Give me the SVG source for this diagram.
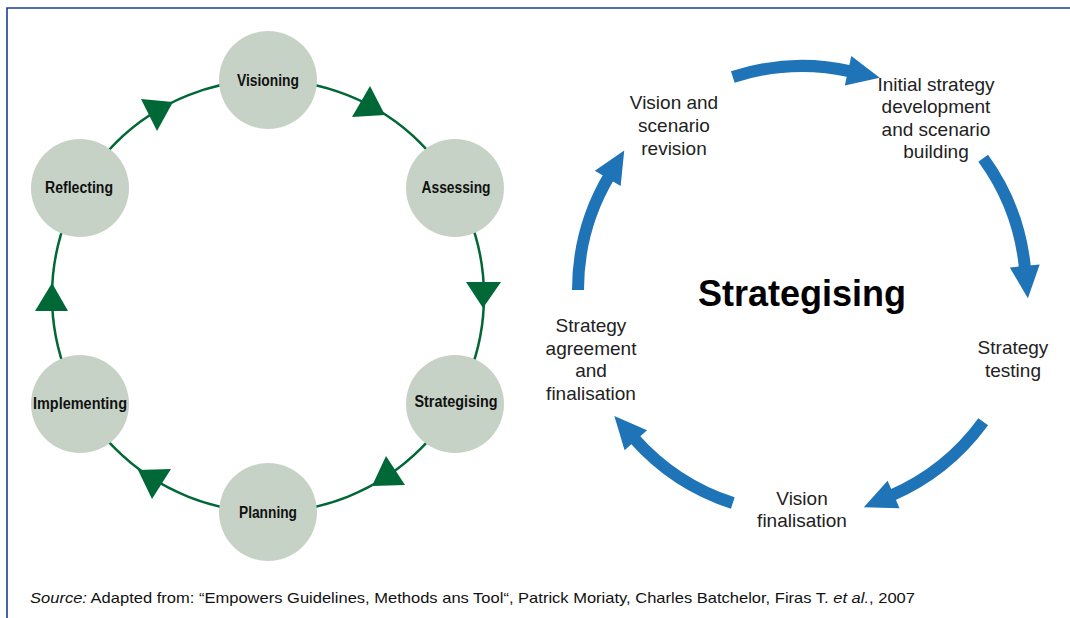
<svg xmlns="http://www.w3.org/2000/svg" width="1070" height="618" viewBox="0 0 1070 618">
<defs>
<style>
.node{fill:#c6d2c6}
.nl{font-family:"Liberation Sans Narrow","Liberation Sans",Arial,sans-serif;font-weight:bold;font-size:16px;fill:#111;text-anchor:middle}
.ring{fill:none;stroke:#006837;stroke-width:2.5}
.tri{fill:#006837}
.barc{fill:none;stroke:#1f73b7;stroke-width:12;marker-end:url(#bh)}
.lbl{font-family:"Liberation Sans",Arial,sans-serif;font-size:19px;fill:#222;text-anchor:middle}
.title{font-family:"Liberation Sans",Arial,sans-serif;font-size:36px;font-weight:bold;fill:#000;text-anchor:middle}
.src{font-family:"Liberation Sans",Arial,sans-serif;font-size:14.5px;fill:#111}
.frame{fill:none;stroke:#203c96;stroke-width:1.6}
</style>
<marker id="bh" markerUnits="userSpaceOnUse" markerWidth="40" markerHeight="40" viewBox="-4 -14 32 28" refX="0" refY="0" orient="auto">
<path d="M-2,-12 L24,0 L-2,12 Z" fill="#1f73b7"/>
</marker>
</defs>
<rect width="1070" height="618" fill="#fff"/>
<path class="frame" d="M7,618 L7,8 L1070,8"/>

<g id="connectors">
<circle class="ring" cx="268" cy="296" r="216"/>
<polygon class="tri" points="141,99 173,102 157,131"/>
<polygon class="tri" points="370,86 352,117 385,115"/>
<polygon class="tri" points="466,282 501,282 483,308"/>
<polygon class="tri" points="386,456 372,486 405,485"/>
<polygon class="tri" points="138,470 171,469 152,499"/>
<polygon class="tri" points="52,283 35,311 68,311"/>
<path class="barc" d="M732.8,77 A224,224 0 0 1 850.5,71.3"/>
<path class="barc" d="M983.2,158.3 A224,224 0 0 1 1025,268.5"/>
<path class="barc" d="M983.2,421.7 A224,224 0 0 1 891.3,495.4"/>
<path class="barc" d="M732.8,503 A224,224 0 0 1 634.2,438.4"/>
<path class="barc" d="M578,290 A224,224 0 0 1 609,176.3"/>
</g>

<g id="node-visioning"><circle class="node" cx="268" cy="80" r="49"/><text class="nl" x="268" y="86" textLength="62" lengthAdjust="spacingAndGlyphs">Visioning</text></g>
<g id="node-assessing"><circle class="node" cx="455" cy="188" r="49"/><text class="nl" x="456" y="193" textLength="69" lengthAdjust="spacingAndGlyphs">Assessing</text></g>
<g id="node-strategising"><circle class="node" cx="455" cy="404" r="49"/><text class="nl" x="456" y="407" textLength="83" lengthAdjust="spacingAndGlyphs">Strategising</text></g>
<g id="node-planning"><circle class="node" cx="268" cy="512" r="49"/><text class="nl" x="268" y="518" textLength="58" lengthAdjust="spacingAndGlyphs">Planning</text></g>
<g id="node-implementing"><circle class="node" cx="80" cy="404" r="49"/><text class="nl" x="80" y="409" textLength="94" lengthAdjust="spacingAndGlyphs">Implementing</text></g>
<g id="node-reflecting"><circle class="node" cx="80" cy="188" r="49"/><text class="nl" x="79" y="193" textLength="68" lengthAdjust="spacingAndGlyphs">Reflecting</text></g>

<g id="title"><text class="title" x="802" y="306">Strategising</text></g>
<g id="step-vision-revision"><text class="lbl" x="674"><tspan x="674" y="109">Vision and</tspan><tspan x="674" y="132">scenario</tspan><tspan x="674" y="155">revision</tspan></text></g>
<g id="step-initial"><text class="lbl" x="936"><tspan x="936" y="90.5">Initial strategy</tspan><tspan x="936" y="113">development</tspan><tspan x="936" y="135.5">and scenario</tspan><tspan x="936" y="158">building</tspan></text></g>
<g id="step-testing"><text class="lbl" x="1013"><tspan x="1013" y="354">Strategy</tspan><tspan x="1013" y="377">testing</tspan></text></g>
<g id="step-vision-final"><text class="lbl" x="802"><tspan x="802" y="505">Vision</tspan><tspan x="802" y="527">finalisation</tspan></text></g>
<g id="step-agreement"><text class="lbl" x="591"><tspan x="591" y="332">Strategy</tspan><tspan x="591" y="355">agreement</tspan><tspan x="591" y="377">and</tspan><tspan x="591" y="400">finalisation</tspan></text></g>

<text class="src" x="30" y="603" textLength="885" lengthAdjust="spacingAndGlyphs"><tspan font-style="italic">Source:</tspan> Adapted from: “Empowers Guidelines, Methods ans Tool“, Patrick Moriaty, Charles Batchelor, Firas T. <tspan font-style="italic">et al.</tspan>, 2007</text>
</svg>
